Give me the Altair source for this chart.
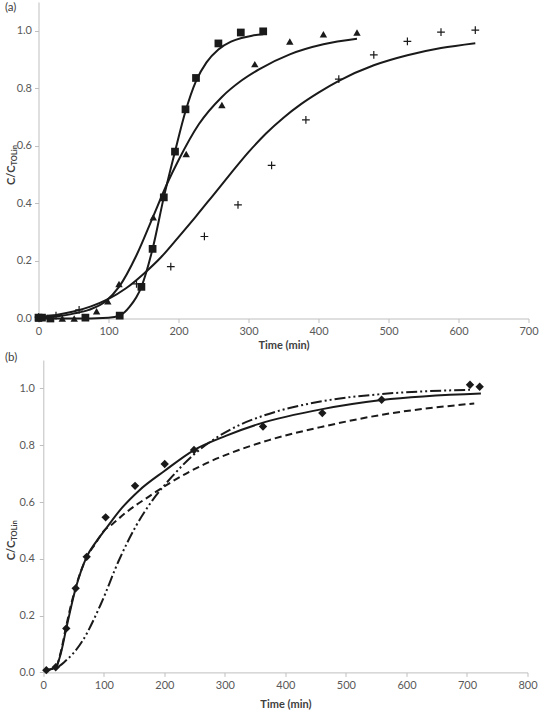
import altair as alt
import pandas as pd

# ---------------- Panel (a): three breakthrough runs ----------------
sq_t = [0, 5, 17, 67, 116, 147, 163, 179, 195, 210, 225, 257, 289, 321]
sq_v = [0.003, 0.003, 0.0, 0.003, 0.01, 0.11, 0.242, 0.421, 0.58, 0.727, 0.836, 0.956, 0.994, 0.998]

tri_t = [0, 17, 34, 51, 83, 99, 115, 164, 211, 262, 309, 359, 407, 455]
tri_v = [0.0, 0.0, 0.0, 0.0, 0.025, 0.06, 0.12, 0.352, 0.572, 0.742, 0.884, 0.963, 0.988, 0.994]

plus_t = [0, 25, 58, 140, 189, 237, 285, 333, 382, 429, 479, 527, 575, 624]
plus_v = [0.005, 0.01, 0.03, 0.12, 0.18, 0.285, 0.395, 0.532, 0.69, 0.832, 0.916, 0.963, 0.995, 1.002]

# fitted model curves for panel (a)
fit_sq_t = [0, 50, 100, 116, 130, 147, 163, 179, 195, 210, 225, 240, 257, 275, 290, 305, 321]
fit_sq_v = [0.0, 0.0, 0.003, 0.01, 0.04, 0.11, 0.242, 0.421, 0.58, 0.72, 0.825, 0.89, 0.935, 0.962, 0.975, 0.983, 0.988]

fit_tri_t = [0, 25, 50, 72, 96, 115, 140, 163, 184, 200, 229, 262, 290, 315, 359, 407, 455]
fit_tri_v = [0.0, 0.007, 0.017, 0.03, 0.06, 0.11, 0.22, 0.35, 0.47, 0.55, 0.675, 0.77, 0.827, 0.866, 0.918, 0.953, 0.972]

fit_plus_t = [0, 25, 50, 75, 100, 125, 150, 175, 200, 225, 250, 275, 300, 325, 350, 375, 400, 429, 479, 527, 575, 624]
fit_plus_v = [0.005, 0.012, 0.024, 0.042, 0.068, 0.105, 0.155, 0.213, 0.283, 0.355, 0.43, 0.505, 0.578, 0.643, 0.698, 0.745, 0.785, 0.826, 0.88, 0.915, 0.94, 0.957]

# ---------------- Panel (b): one run, three models ----------------
dia_t = [5, 20.5, 38, 53.5, 71.7, 103, 151.6, 200.6, 249, 363, 461, 559, 705, 721]
dia_v = [0.008, 0.018, 0.155, 0.296, 0.407, 0.546, 0.657, 0.734, 0.783, 0.866, 0.913, 0.96, 1.013, 1.006]

solid_t = [5, 20.5, 28.7, 38, 53.5, 71.7, 86.6, 103, 130.6, 158, 200.6, 249, 301.5, 356.5, 461, 559, 723]
solid_v = [0.008, 0.018, 0.065, 0.155, 0.296, 0.407, 0.458, 0.505, 0.581, 0.64, 0.71, 0.783, 0.833, 0.875, 0.927, 0.959, 0.982]

dash_t = [5, 20.5, 28.7, 38, 53.5, 71.7, 86.6, 100, 114, 136, 175, 213, 268, 323, 373, 461, 559, 712]
dash_v = [0.008, 0.018, 0.07, 0.165, 0.3, 0.405, 0.455, 0.498, 0.522, 0.562, 0.62, 0.672, 0.735, 0.783, 0.818, 0.865, 0.907, 0.947]

dd_t = [25, 34, 64.5, 95, 125, 153, 180, 213, 246, 285, 323, 365, 461, 559, 705]
dd_v = [0.02, 0.035, 0.11, 0.24, 0.395, 0.515, 0.605, 0.69, 0.762, 0.825, 0.87, 0.905, 0.955, 0.98, 0.995]

FONT = "Lato"
INK = "#1a1a1a"
AXIS_GREY = "#bfbfbf"
LABEL_GREY = "#595959"
PLUS_PATH = "M-1,0L1,0M0,-1L0,1"


def axis_x(max_t, step, title_pad):
    return alt.Axis(
        values=list(range(0, max_t + 1, step)), grid=False, title="Time (min)",
        domainColor=AXIS_GREY, tickColor=AXIS_GREY, tickSize=4,
        labelColor=LABEL_GREY, labelFont=FONT, labelFontSize=11, labelPadding=3,
        labelFlush=False,
        titleFont=FONT, titleFontSize=11, titleFontWeight="bold", titleColor="#404040",
        titlePadding=title_pad,
    )


def axis_y(label_pad, inset):
    kw = {}
    if inset:
        kw["offset"] = -inset
    return alt.Axis(
        values=[0, 0.2, 0.4, 0.6, 0.8, 1.0], format=".1f", grid=False, title=None,
        domainColor=AXIS_GREY, tickColor=AXIS_GREY, tickSize=4,
        labelColor=LABEL_GREY, labelFont=FONT, labelFontSize=11, labelPadding=label_pad,
        labelFlush=False,
        **kw,
    )


def scatter(t, v, shape, size, filled=True, stroke_width=1):
    df = pd.DataFrame({"t": t, "v": v})
    return alt.Chart(df).mark_point(shape=shape, size=size, filled=filled, color=INK,
                                    opacity=1, strokeWidth=stroke_width)


def curve(t, v, dash=None):
    df = pd.DataFrame({"t": t, "v": v})
    kw = dict(color=INK, strokeWidth=2, interpolate="monotone")
    if dash:
        kw["strokeDash"] = dash
    return alt.Chart(df).mark_line(**kw)


def label(text, x, y, size=11, weight="normal", angle=0, align="left", color="#404040"):
    return alt.Chart(pd.DataFrame({"k": [0]})).mark_text(
        text=text, font=FONT, fontSize=size, fontWeight=weight, angle=angle,
        align=align, baseline="middle", color=color,
    ).encode(x=alt.value(x), y=alt.value(y))


def panel(layers, max_t, w, h, tag, tag_y, title_y, label_pad, inset=0.0, title_pad=3):
    # the plot area may start a few pixels inside the view (inset)
    xs = alt.X("t:Q",
               scale=alt.Scale(domain=[0, max_t], nice=False, zero=True, range=[inset, w]),
               axis=axis_x(max_t, 100, title_pad))
    ys = alt.Y("v:Q", scale=alt.Scale(domain=[0, 1.1], nice=False), axis=axis_y(label_pad, inset))
    encoded = [lyr.encode(x=xs, y=ys) for lyr in layers]
    texts = [
        label(tag, -33.5, tag_y, size=11.5, color="#404040"),
        label("C/C", -26.5, title_y, size=11, weight="bold", angle=270, align="right"),
        label("TOLin", -24.0, title_y, size=7.5, weight="bold", angle=270, align="left"),
    ]
    return alt.layer(*encoded, *texts).properties(width=w, height=h)


panel_a = panel(
    [
        curve(fit_sq_t, fit_sq_v),
        curve(fit_tri_t, fit_tri_v),
        curve(fit_plus_t, fit_plus_v),
        scatter(sq_t, sq_v, "square", 60),
        scatter(tri_t, tri_v, "triangle-up", 55),
        scatter(plus_t, plus_v, PLUS_PATH, 60, filled=False, stroke_width=1.2),
    ],
    700, 490, 316.5, "(a)", 5.5, 163.5, 3,
)

panel_b = panel(
    [
        curve(solid_t, solid_v),
        curve(dash_t, dash_v, dash=[7, 4]),
        curve(dd_t, dd_v, dash=[11, 3, 2, 3, 2, 3]),
        scatter(dia_t, dia_v, "diamond", 70),
    ],
    800, 489, 312.4, "(b)", -2.3, 180.7, 5, inset=4.8, title_pad=8,
)

chart = alt.vconcat(panel_a, panel_b, spacing=0, background="white").properties(
    padding={"left": 4.5, "top": 1, "right": 0, "bottom": 0}
).configure_view(stroke=None)

chart.save("out.html", embed_options={"renderer": "svg", "actions": False})
